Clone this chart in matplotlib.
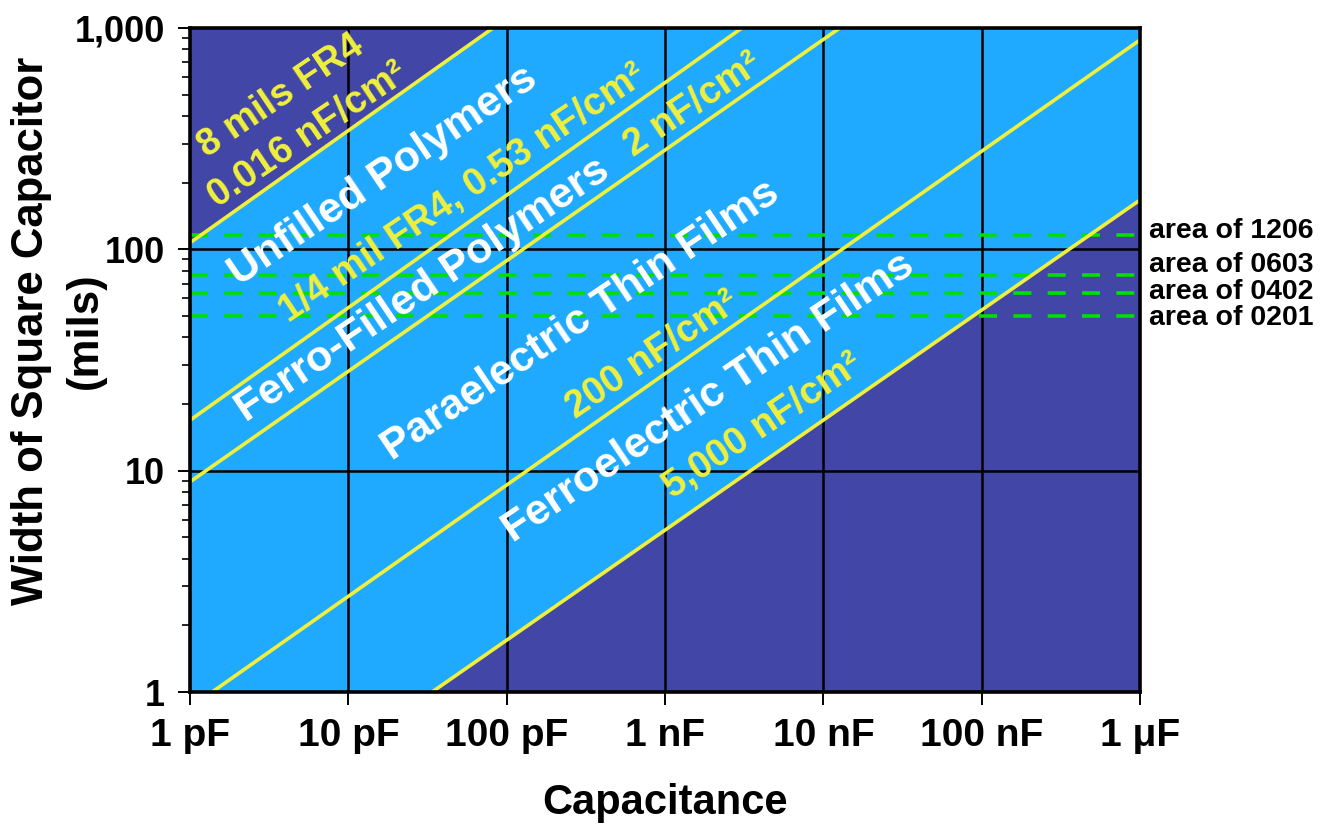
import matplotlib
matplotlib.use('Agg')
import matplotlib.pyplot as plt
import matplotlib.transforms as mtransforms

plt.rcParams['font.family'] = ['Liberation Sans', 'DejaVu Sans']
plt.rcParams['font.weight'] = 'bold'

# ---------------- data ----------------
x_ticks = [1e-12, 1e-11, 1e-10, 1e-9, 1e-8, 1e-7, 1e-6]
x_tick_labels = ['1 pF', '10 pF', '100 pF', '1 nF', '10 nF', '100 nF', '1 \u03bcF']
y_ticks = [1, 10, 100, 1000]
y_tick_labels = ['1', '10', '100', '1,000']

# dielectric density lines: endpoints (capacitance in F, width in mils)
line_density = ['0.016', '0.53', '2', '200', '5000']   # nF/cm^2
line_c_start = [1.0e-12, 1.0e-12, 1.0e-12, 1.38e-12, 3.38e-11]
line_w_start = [107.0, 16.9, 8.9, 1.0, 1.0]
line_c_end = [8.2e-11, 3.06e-9, 1.27e-8, 1.0e-6, 1.0e-6]
line_w_end = [1000.0, 1000.0, 1000.0, 883.0, 167.0]

# package areas expressed as square widths (mils)
package_names = ['1206', '0603', '0402', '0201']
package_widths = [116.0, 76.6, 63.5, 50.0]

# ---------------- style / layout ----------------
DARK = '#4246A6'
LIGHT = '#20AAFF'
YELLOW = '#F0F03C'
GREEN = '#00E000'

package_label_y = [121.0, 85.0, 64.3, 48.8]

fig = plt.figure(figsize=(13.36, 8.25), dpi=100)
ax = fig.add_axes([190 / 1336, 1 - 692 / 825, 950 / 1336, 664 / 825])
ax.set_xscale('log')
ax.set_yscale('log')
ax.set_xlim(x_ticks[0], x_ticks[-1])
ax.set_ylim(y_ticks[0], y_ticks[-1])
ax.set_facecolor(LIGHT)

xmin, xmax = x_ticks[0], x_ticks[-1]
ymin, ymax = y_ticks[0], y_ticks[-1]

# dark regions
ax.fill([line_c_start[0], line_c_end[0], xmin],
        [line_w_start[0], line_w_end[0], ymax], color=DARK, zorder=1, lw=0)
ax.fill([line_c_start[-1], line_c_end[-1], xmax],
        [line_w_start[-1], line_w_end[-1], ymin], color=DARK, zorder=1, lw=0)

# grid
for xv in x_ticks[1:-1]:
    ax.axvline(xv, color='black', lw=1.8, zorder=2)
for yv in y_ticks[1:-1]:
    ax.axhline(yv, color='black', lw=1.8, zorder=2)

# package dashed lines
for w in package_widths:
    ax.plot([xmin, xmax], [w, w], color=GREEN, lw=2.6, dashes=(5.0, 4.5), zorder=3)

trans = mtransforms.blended_transform_factory(ax.transAxes, ax.transData)
for name, yl in zip(package_names, package_label_y):
    ax.text(1.009, yl, 'area of ' + name, transform=trans, ha='left', va='center',
            fontsize=20.5, fontweight='bold', color='black', clip_on=False)

# density lines
for cs, ws, ce, we in zip(line_c_start, line_w_start, line_c_end, line_w_end):
    ax.plot([cs, ce], [ws, we], color=YELLOW, lw=2.6, zorder=4, solid_capstyle='butt')

# in-plot labels (axes-fraction positions)
labels = [
    ('8 mils FR4', 0.0957, 0.897, YELLOW, 27.5),
    ('0.016 nF/cm\u00b2', 0.124, 0.838, YELLOW, 27.5),
    ('Unfilled Polymers', 0.203, 0.777, 'white', 31),
    ('1/4 mil FR4, 0.53 nF/cm\u00b2', 0.287, 0.751, YELLOW, 27.5),
    ('Ferro-Filled Polymers', 0.245, 0.605, 'white', 31),
    ('2 nF/cm\u00b2', 0.530, 0.884, YELLOW, 27.5),
    ('Paraelectric Thin Films', 0.411, 0.560, 'white', 31),
    ('200 nF/cm\u00b2', 0.487, 0.508, YELLOW, 27.5),
    ('Ferroelectric Thin Films', 0.546, 0.443, 'white', 31),
    ('5,000 nF/cm\u00b2', 0.603, 0.400, YELLOW, 27.5),
]
for s, fx, fy, col, fs in labels:
    ax.text(fx, fy, s, transform=ax.transAxes, rotation=34, rotation_mode='anchor',
            ha='center', va='center', fontsize=fs, fontweight='bold', color=col, zorder=6)

# spines and ticks
for sp in ax.spines.values():
    sp.set_linewidth(2.6)
    sp.set_zorder(7)

ax.set_xticks(x_ticks)
ax.set_xticklabels(x_tick_labels)
ax.set_yticks(y_ticks)
ax.set_yticklabels(y_tick_labels)
ax.xaxis.set_minor_locator(matplotlib.ticker.NullLocator())
ax.tick_params(axis='x', which='major', direction='out', length=9.5, width=1.4,
               pad=9, labelsize=28)
ax.tick_params(axis='y', which='major', direction='out', length=9, width=1.4,
               pad=9, labelsize=26)
ax.tick_params(axis='y', which='minor', direction='out', length=5.5, width=1.2)
for lab in ax.get_xticklabels() + ax.get_yticklabels():
    lab.set_fontweight('bold')

fig.text(58 / 1336, 1 - 331 / 825, 'Width of Square Capacitor\n(mils)', rotation=90,
         ha='center', va='center', multialignment='center', linespacing=1.4,
         fontsize=31.5, fontweight='bold')
fig.text(665 / 1336, 1 - 803 / 825, 'Capacitance', ha='center', va='center',
         fontsize=30, fontweight='bold')

fig.savefig('out.png', dpi=100)
